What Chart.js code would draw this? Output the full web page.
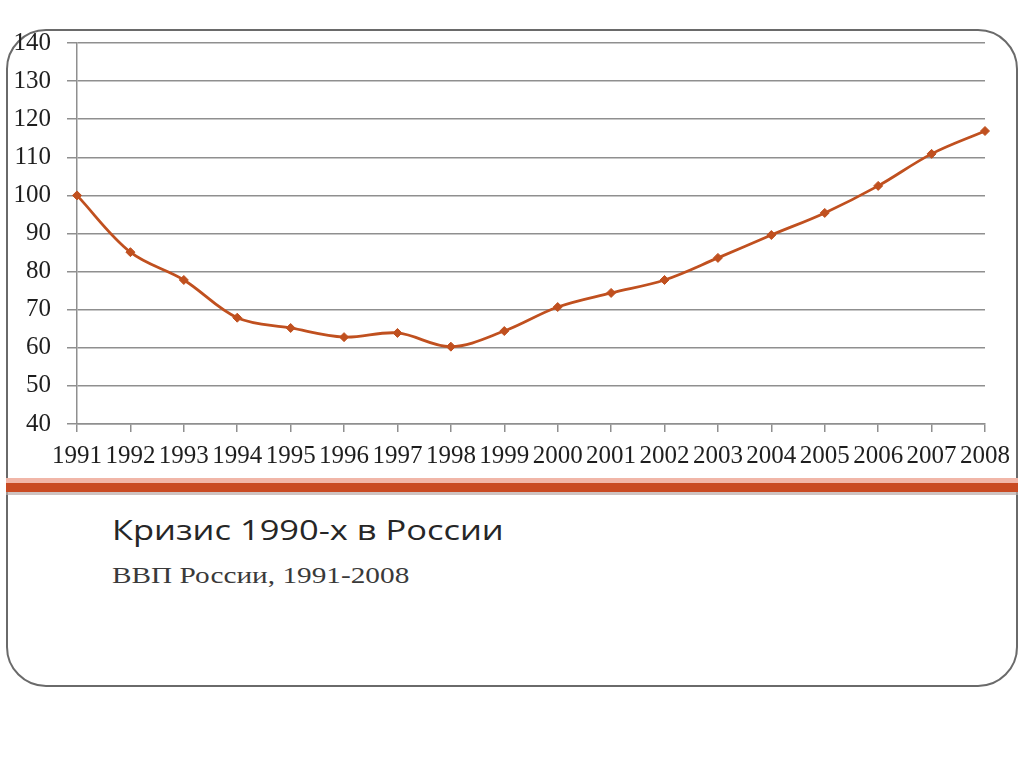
<!DOCTYPE html>
<html>
<head>
<meta charset="utf-8">
<script src="https://cdn.jsdelivr.net/npm/chart.js@4/dist/chart.umd.min.js"></script>
<style>
  html, body { margin: 0; padding: 0; background: #ffffff; width: 1024px; height: 767px; overflow: hidden; }
  #frame { position: absolute; left: 6px; top: 29px; width: 1008px; height: 654px; border: 2px solid #6a6a6a; border-radius: 40px; }
  #sepLight { position: absolute; left: 6px; top: 478px; width: 1012px; height: 5px; background: #f1b6a8; }
  #sepMain { position: absolute; left: 6px; top: 483px; width: 1012px; height: 9px; background: #c94a22; }
  #sepShadow { position: absolute; left: 6px; top: 492px; width: 1012px; height: 3px; background: #b9a9a6; opacity: 0.7; }
  #chartBox { position: absolute; left: 0; top: 0; width: 1024px; height: 480px; }
  #title { position: absolute; left: 112px; top: 510px; font-family: "Open Sans", sans-serif; font-size: 28px; line-height: normal; color: #262626; white-space: nowrap; transform: scaleX(1.23); transform-origin: 0 0; }
  #subtitle { position: absolute; left: 112px; top: 562px; font-family: "Liberation Serif", serif; font-size: 24px; line-height: normal; color: #3a3a3a; white-space: nowrap; transform: scaleX(1.22); transform-origin: 0 0; }
</style>
</head>
<body>
<div id="frame"></div>
<div id="sepLight"></div>
<div id="sepMain"></div>
<div id="sepShadow"></div>
<div id="chartBox"><canvas id="c" width="1024" height="480"></canvas></div>
<div id="title">Кризис 1990-х в России</div>
<div id="subtitle">ВВП России, 1991-2008</div>
<script>
const years = ['1991','1992','1993','1994','1995','1996','1997','1998','1999','2000','2001','2002','2003','2004','2005','2006','2007','2008'];
const gdpIndex = [100, 85.1, 77.8, 67.9, 65.2, 62.8, 63.9, 60.3, 64.4, 70.7, 74.4, 77.8, 83.6, 89.6, 95.4, 102.5, 110.9, 116.9];
const yMin = 40;
const yMax = 140;
const yStep = 10;

const tickFont = { family: '"Liberation Serif", serif', size: 25 };
const gridColor = '#8f8f8f';
const lineColor = '#c0501f';

new Chart(document.getElementById('c'), {
  type: 'line',
  data: {
    labels: years,
    datasets: [{
      data: gdpIndex,
      borderColor: lineColor,
      backgroundColor: lineColor,
      borderWidth: 2.8,
      tension: 0.35,
      pointStyle: 'rectRot',
      pointRadius: 4.5,
      pointBorderWidth: 1,
      pointBackgroundColor: lineColor,
      pointBorderColor: lineColor,
      fill: false
    }]
  },
  options: {
    responsive: false,
    animation: false,
    devicePixelRatio: 1,
    layout: { padding: { top: 43, right: 39, bottom: 0, left: 0 } },
    plugins: { legend: { display: false }, tooltip: { enabled: false }, title: { display: false } },
    scales: {
      x: {
        offset: false,
        grid: { drawOnChartArea: false, drawTicks: true, tickLength: 8, color: gridColor, lineWidth: 1.5 },
        border: { display: true, color: gridColor, width: 1.5 },
        ticks: { font: tickFont, color: '#1e1e1e', padding: 9, maxRotation: 0, minRotation: 0, autoSkip: false },
        afterFit: (s) => { s.height = 56; }
      },
      y: {
        min: yMin,
        max: yMax,
        grid: { drawOnChartArea: true, drawTicks: true, tickLength: 10, color: gridColor, lineWidth: 1.5 },
        border: { display: true, color: gridColor, width: 1.5 },
        ticks: { stepSize: yStep, font: tickFont, color: '#1e1e1e', padding: 16 },
        afterFit: (s) => { s.width = 77; }
      }
    }
  }
});
</script>
</body>
</html>
